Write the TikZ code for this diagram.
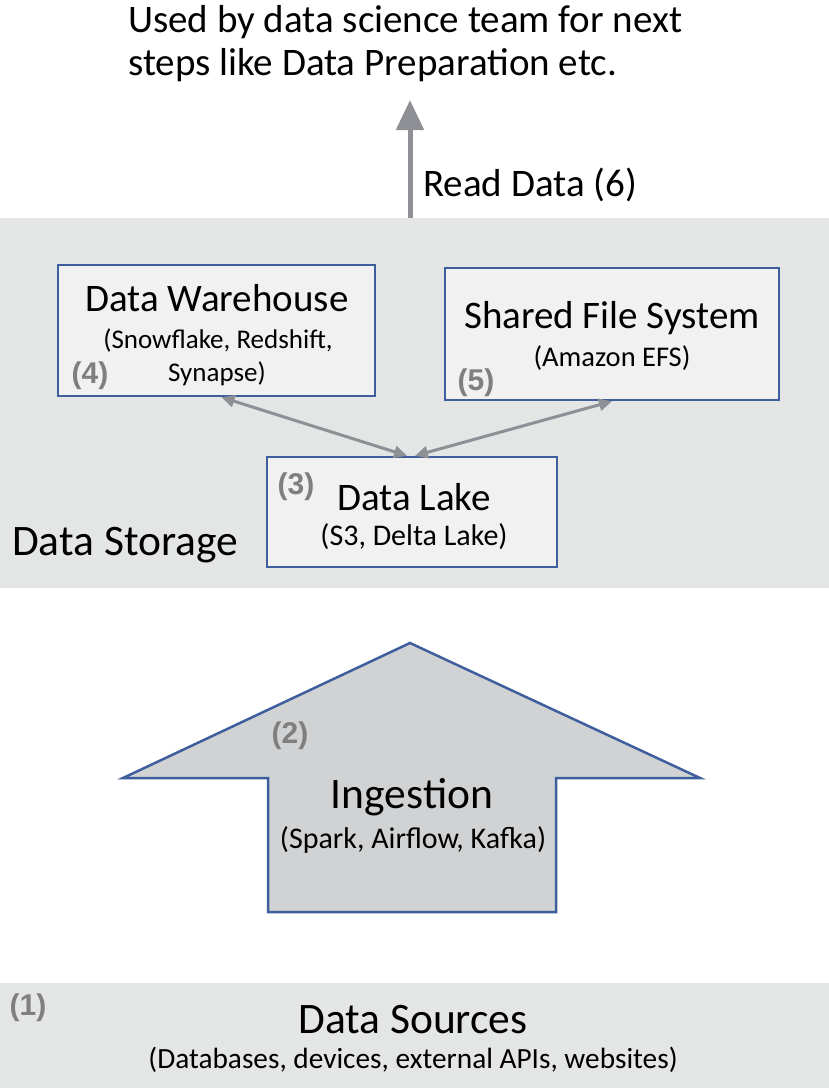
\documentclass[tikz,border=0pt]{standalone}
\usepackage{fontspec}
\setmainfont{Carlito}
\newfontfamily\numfont{Liberation Sans}
\usetikzlibrary{arrows.meta}
\definecolor{storagegray}{HTML}{E4E5E5}
\definecolor{boxfill}{HTML}{F1F1F1}
\definecolor{boxblue}{HTML}{3F5E9E}
\definecolor{arrowgray}{HTML}{8E9096}
\definecolor{numgray}{HTML}{7F7F7F}
\definecolor{ingestfill}{HTML}{D0D2D3}
\tikzset{
  x=1pt, y=-1pt,
  bluebox/.style={draw=boxblue, line width=2.5pt, fill=boxfill, inner sep=0pt},
  bigtxt/.style={font=\fontsize{39}{46}\selectfont, inner sep=0pt},
  hugetxt/.style={font=\fontsize{43.5}{50}\selectfont, inner sep=0pt},
  subtxt/.style={font=\fontsize{#1}{#1}\selectfont, inner sep=0pt},
  subtxt/.default=28,
  numtxt/.style={font=\numfont\bfseries\fontsize{30}{34}\selectfont, text=numgray, inner sep=0pt},
  linkarrow/.style={draw=arrowgray, line width=3pt, {Triangle[length=13pt,width=12pt]}-{Triangle[length=13pt,width=12pt]}},
  readarrow/.style={draw=arrowgray, line width=5pt, -{Triangle[length=30pt,width=27pt]}}
}
\begin{document}
\begin{tikzpicture}
\useasboundingbox (0,0) rectangle (829,1088);
% top text
\node[bigtxt, anchor=west] (usedA) at (128,22) {Used by data science team for next};
\node[bigtxt, anchor=west] (usedB) at (128,65) {steps like Data Preparation etc.};
% storage band
\node[fill=storagegray, minimum width=829pt, minimum height=370pt, inner sep=0pt, anchor=north west] (storage) at (0,218) {};
\node[hugetxt, anchor=west] (storagelbl) at (12,545) {Data Storage};
% read arrow
\coordinate (readtip) at (410,100);
\draw[readarrow] (storage.north -| readtip) -- (readtip);
\node[bigtxt, anchor=west] (readlbl) at (423,185) {Read Data (6)};
% boxes
\node[bluebox, minimum width=317pt, minimum height=131pt] (dw) at (216.5,330.5) {};
\node[bluebox, minimum width=334pt, minimum height=132pt] (sfs) at (612,334) {};
\node[bluebox, minimum width=290pt, minimum height=110pt] (dl) at (412,512) {};
\node[bigtxt] (dwt) at (217,298) {Data Warehouse};
\node[subtxt=27] (dws1) at (218,340) {(Snowflake, Redshift,};
\node[subtxt=27] (dws2) at (217,374) {Synapse)};
\node[numtxt] (n4) at (90,376) {(4)};
\node[bigtxt] (sfst) at (612,318) {Shared File System};
\node[subtxt=28.5] (sfss) at (612,358) {(Amazon EFS)};
\node[numtxt] (n5) at (476,383) {(5)};
\node[numtxt] (n3) at (296,487) {(3)};
\node[bigtxt] (dlt) at (414,497) {Data Lake};
\node[subtxt=30] (dls) at (414,537) {(S3, Delta Lake)};
% links
\draw[linkarrow] ([xshift=5pt]dw.south) -- ([xshift=-5pt]dl.north);
\draw[linkarrow] (sfs.south) -- ([xshift=3pt]dl.north);
% ingestion arrow
\draw[draw=boxblue, line width=2.5pt, fill=ingestfill, line join=miter]
  (410,643) -- (700,778) -- (556,778) -- (556,912) -- (268,912) -- (268,778) -- (123,778) -- cycle;
\node[numtxt] (n2) at (290,736) {(2)};
\node[hugetxt] (ingt) at (412,797) {Ingestion};
\node[subtxt=30] (ings) at (413,840) {(Spark, Airflow, Kafka)};
% sources band
\node[fill=storagegray, minimum width=829pt, minimum height=105pt, inner sep=0pt, anchor=north west] (sources) at (0,983) {};
\node[numtxt] (n1) at (28,1008) {(1)};
\node[hugetxt] (srct) at (413,1020) {Data Sources};
\node[subtxt=29.3] (srcs) at (413,1060) {(Databases, devices, external APIs, websites)};
\end{tikzpicture}
\end{document}
